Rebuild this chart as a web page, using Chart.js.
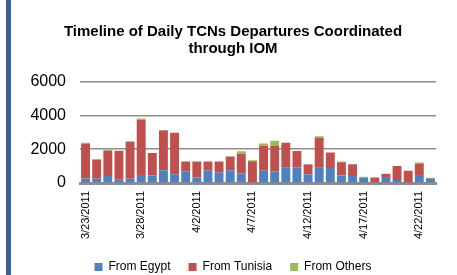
<!DOCTYPE html>
<html>
<head>
<meta charset="utf-8">
<script src="https://cdn.jsdelivr.net/npm/chart.js@4/dist/chart.umd.min.js"></script>
<style>
  html, body { margin: 0; padding: 0; background: #fff; }
  body { width: 457px; height: 275px; overflow: hidden; position: relative; }
  #edge { position: absolute; left: 6px; top: 0; width: 5px; height: 275px; background: #3b6299; }
  #wrap { position: absolute; left: 12px; top: 0; width: 445px; height: 275px; }
</style>
</head>
<body>
<div id="edge"></div>
<div id="wrap"><canvas id="chart"></canvas></div>
<script>
"use strict";

// one category per day, 3/23/2011 .. 4/23/2011
const days = [
  "3/23/2011", "3/24/2011", "3/25/2011", "3/26/2011", "3/27/2011", "3/28/2011",
  "3/29/2011", "3/30/2011", "3/31/2011", "4/1/2011", "4/2/2011", "4/3/2011",
  "4/4/2011", "4/5/2011", "4/6/2011", "4/7/2011", "4/8/2011", "4/9/2011",
  "4/10/2011", "4/11/2011", "4/12/2011", "4/13/2011", "4/14/2011", "4/15/2011",
  "4/16/2011", "4/17/2011", "4/18/2011", "4/19/2011", "4/20/2011", "4/21/2011",
  "4/22/2011", "4/23/2011",
];
const fromEgypt = [
  270, 250, 410, 195, 250, 470, 450, 760, 520, 660, 330, 760, 620, 760, 565, 0,
  720, 680, 900, 920, 510, 900, 880, 450, 410, 330, 0, 350, 175, 0, 470, 270,
];
const fromTunisia = [
  2070, 1130, 1500, 1715, 2210, 3250, 1320, 2340, 2450, 610, 940, 510, 650, 800, 1170, 1290,
  1460, 1500, 1480, 970, 580, 1770, 930, 780, 700, 0, 330, 195, 835, 720, 680, 20,
];
const fromOthers = [
  40, 40, 60, 0, 0, 100, 0, 40, 0, 0, 0, 0, 0, 0, 135, 55,
  160, 320, 0, 0, 40, 100, 0, 40, 0, 40, 0, 0, 0, 0, 60, 20,
];
const yTicks = [0, 2000, 4000, 6000];

const font = "'Liberation Sans', Arial, sans-serif";

new Chart(document.getElementById("chart"), {
  type: "bar",
  data: {
    labels: days,
    datasets: [
      { label: "From Egypt", data: fromEgypt, backgroundColor: "#4f81bd" },
      { label: "From Tunisia", data: fromTunisia, backgroundColor: "#c0504d" },
      { label: "From Others", data: fromOthers, backgroundColor: "#9bbb59" },
    ],
  },
  options: {
    responsive: true,
    maintainAspectRatio: false,
    animation: false,
    // negative bottom padding pushes the legend row down to the picture's edge
    layout: { padding: { left: 18, right: 21, top: 0, bottom: -8 } },
    datasets: {
      bar: { categoryPercentage: 1, barPercentage: 0.8, borderWidth: 0 },
    },
    scales: {
      x: {
        stacked: true,
        afterFit: (axis) => {
          axis.height = 60;
        },
        grid: { display: false, drawTicks: false },
        border: { display: true, color: "#8c8c8c", width: 3 },
        ticks: {
          color: "#000",
          font: { family: font, size: 11 },
          autoSkip: false,
          minRotation: 90,
          maxRotation: 90,
          padding: 8,
          callback: (value, index) => (index % 5 === 0 ? days[index] : ""),
        },
      },
      y: {
        stacked: true,
        min: 0,
        max: 6000,
        afterBuildTicks: (axis) => {
          axis.ticks = yTicks.map((v) => ({ value: v }));
        },
        afterFit: (axis) => {
          axis.width = 50;
        },
        grid: { color: "#8e8e8e", lineWidth: 1.5, drawTicks: false },
        border: { display: false },
        ticks: {
          color: "#000",
          font: { family: font, size: 16 },
          padding: 14,
          callback: (value) => String(value),
        },
      },
    },
    plugins: {
      tooltip: { enabled: false },
      title: {
        display: true,
        text: ["Timeline of Daily TCNs Departures Coordinated", "through IOM"],
        color: "#000",
        font: { family: font, size: 15, weight: "bold", lineHeight: 1.15 },
        padding: { top: 23, bottom: 24 },
      },
      legend: {
        position: "bottom",
        labels: {
          color: "#000",
          font: { family: font, size: 12 },
          boxWidth: 8,
          boxHeight: 8,
          padding: 18,
        },
      },
    },
  },
});
</script>
</body>
</html>
